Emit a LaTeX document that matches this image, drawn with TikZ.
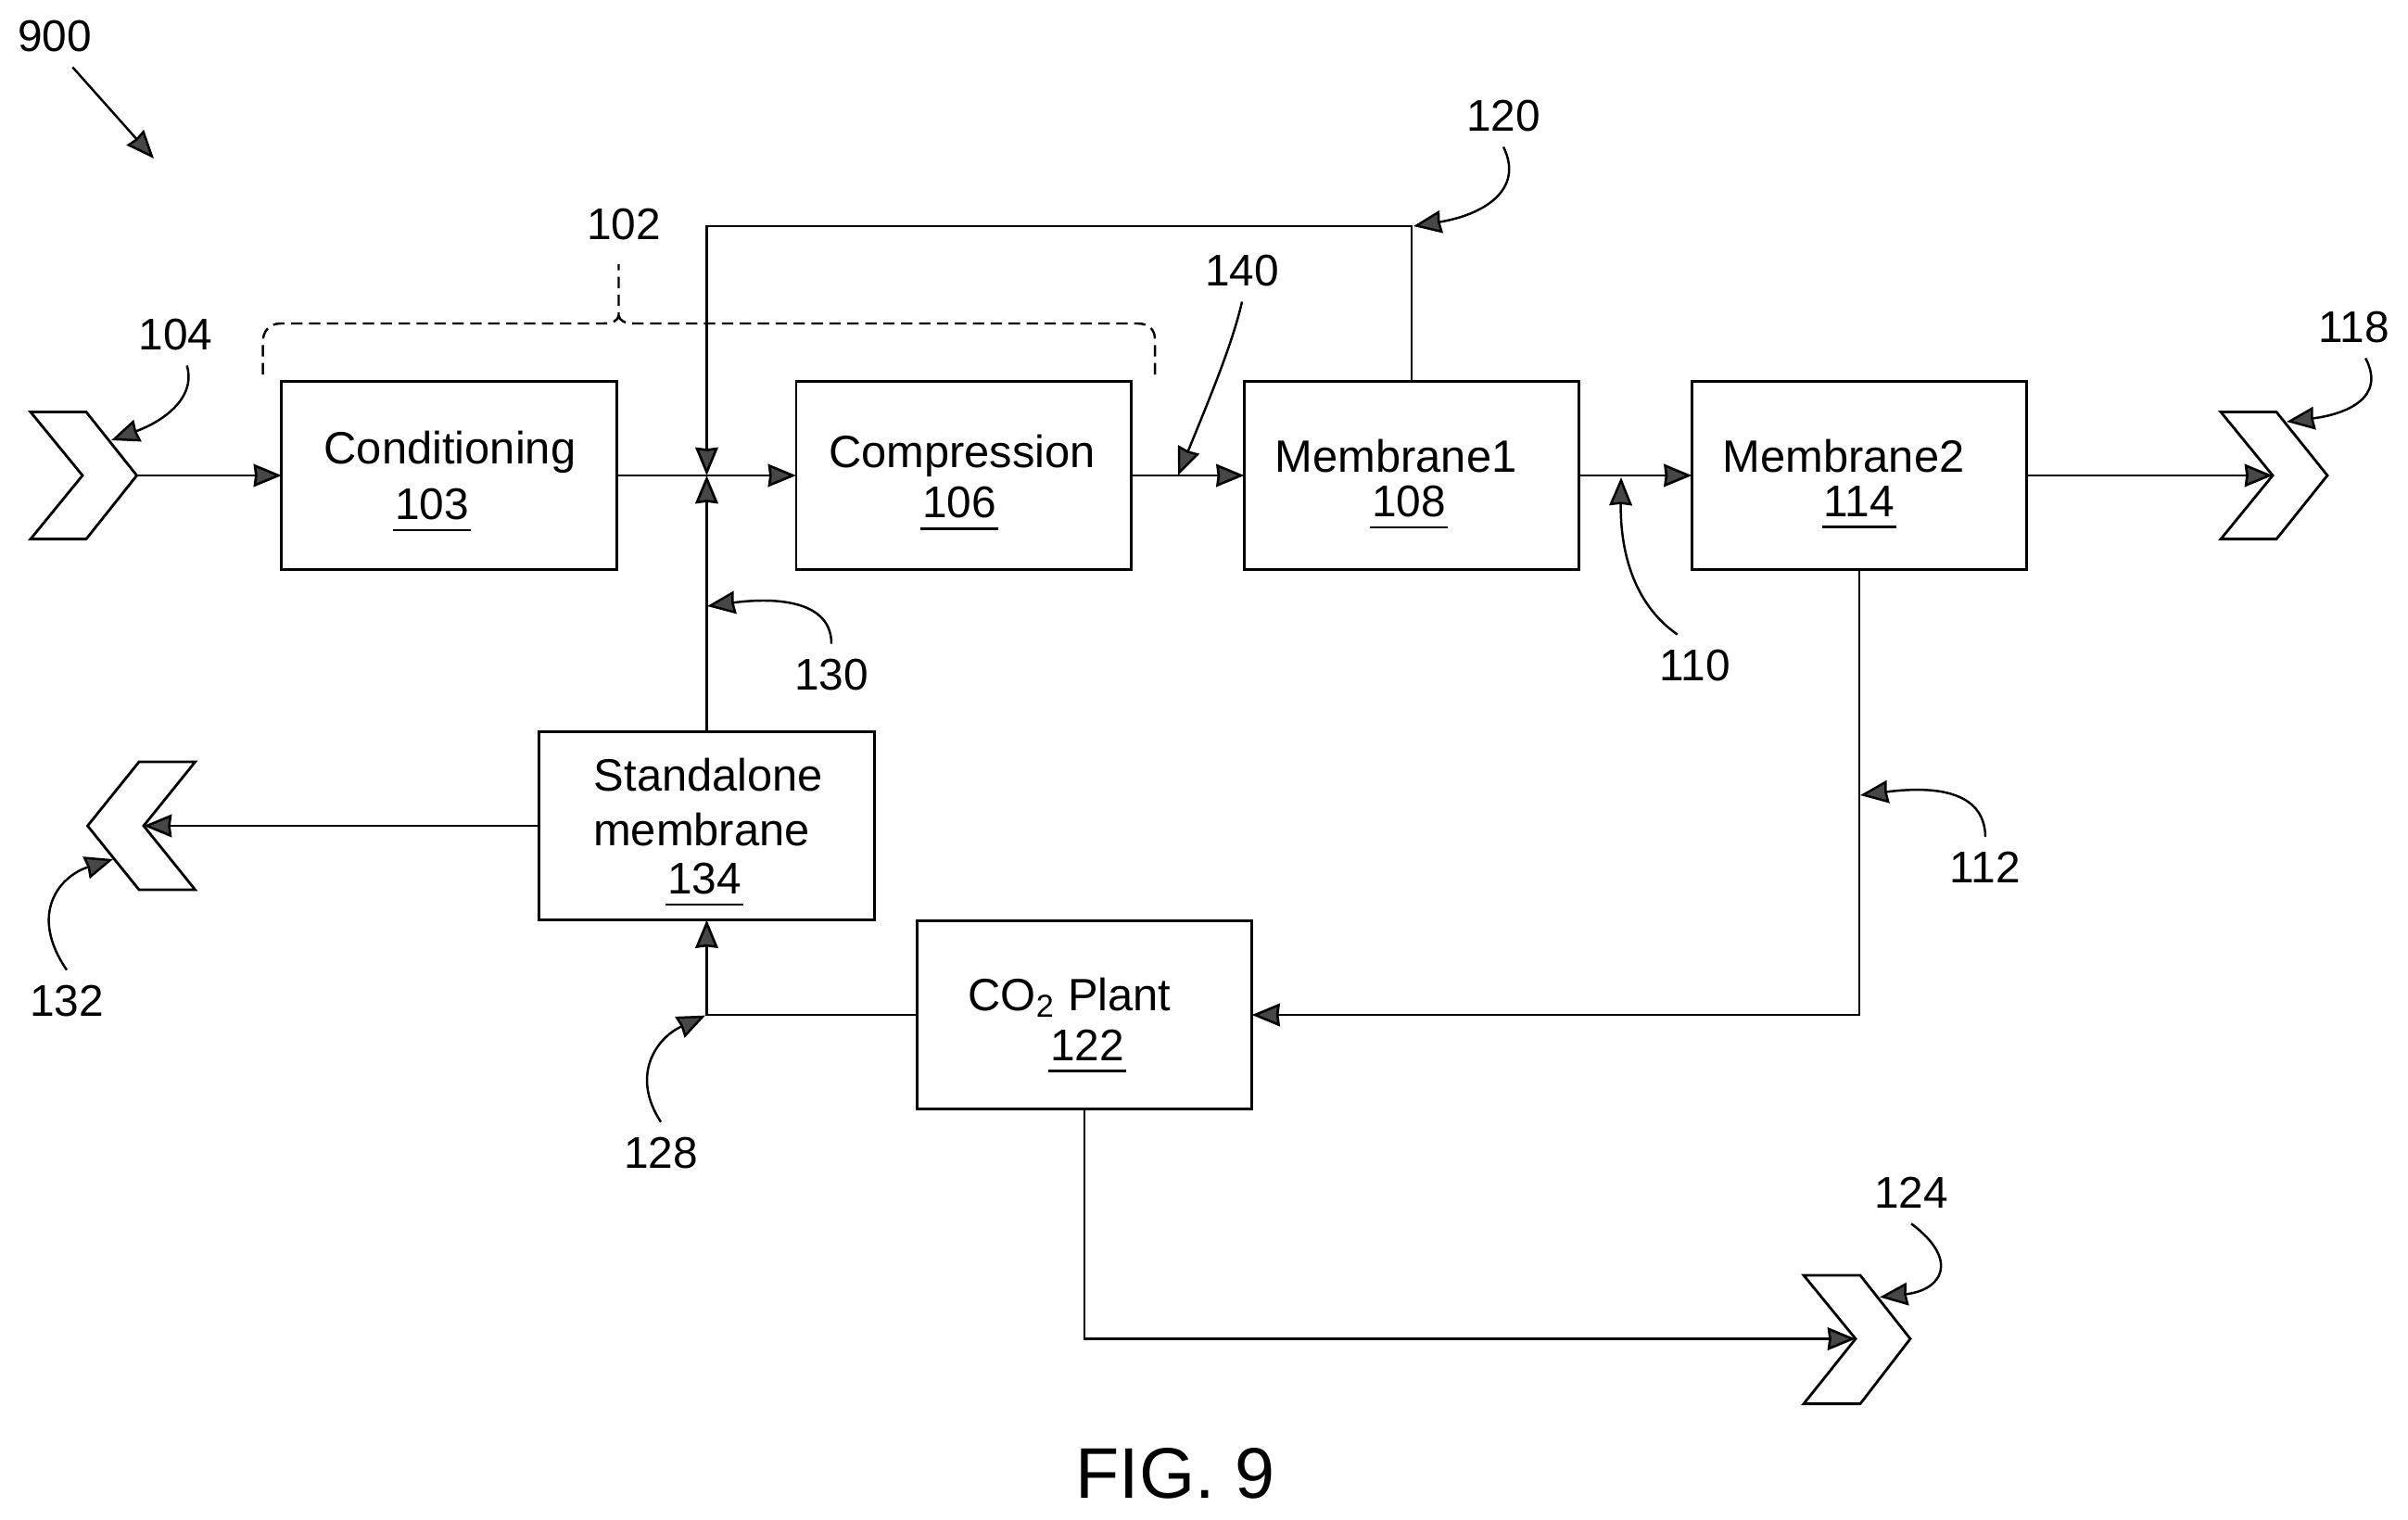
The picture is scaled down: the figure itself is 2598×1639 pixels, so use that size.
\documentclass[tikz,border=0pt]{standalone}
\usepackage{fontspec}
\setmainfont{Liberation Sans}
\usetikzlibrary{arrows.meta}

\tikzset{
	tip/.style={-{Stealth[length=8.6pt, width=7pt, inset=0.4pt, fill=black!72]}},
	unit/.style={draw, line width=0.8pt, outer sep=0pt, minimum width=3.61cm, minimum height=2.03cm, inner sep=0pt},
	link/.style={line width=0.75pt},
	leader/.style={line width=0.7pt},
	chevron/.style={line width=0.8pt, line join=miter},
	tag/.style={font=\fontsize{13.6}{16}\selectfont, inner sep=4.5pt},
	word/.style={font=\fontsize{13.9}{16}\selectfont, anchor=base, inner sep=0pt},
	num/.style={font=\fontsize{13.6}{16}\selectfont, anchor=base, inner xsep=0.4pt, inner ysep=3.1pt}
}

\begin{document}
\begin{tikzpicture}[x=0.01cm, y=-0.01cm]
\useasboundingbox (0, 0) rectangle (2598, 1639);

% boxes
\node[unit] (cond) at (484.5, 513) {};
\node[unit] (comp) at (1039.5, 513) {};
\node[unit] (mem1) at (1523, 513) {};
\node[unit] (mem2) at (2006, 513) {};
\node[unit] (stand) at (762.5, 891) {};
\node[unit] (plant) at (1170, 1095) {};

\node[word] (condtxt) at (485.5, 500) {Conditioning};
\node[word] (comptxt) at (1038, 504) {Compression};
\node[word] (mem1txt) at (1506, 509) {Membrane1};
\node[word] (mem2txt) at (1989, 509) {Membrane2};
\node[word] (standtxt) at (764.5, 853) {Standalone};
\node[word] (standtxtb) at (757, 912.6) {membrane};
\node[word] (planttxt) at (1154, 1090) {CO\textsubscript{2} Plant};

\node[num] (n103) at (466, 560) {103};
\node[num] (n106) at (1035, 558.5) {106};
\node[num] (n108) at (1520, 557) {108};
\node[num] (n114) at (2006, 557) {114};
\node[num] (n134) at (760, 964) {134};
\node[num] (n122) at (1173, 1144) {122};
\foreach \n in {n103, n106, n108, n114, n134, n122}
{
	\draw[link] (\n.south west) -- (\n.south east);
}

% chevrons
\draw[chevron] (33, 444.5) -- (93, 444.5) -- (147.6, 513) coordinate (out104) -- (93, 581.6) -- (33, 581.6) -- (89, 513) -- cycle;
\draw[chevron] (2396, 444.5) -- (2456, 444.5) -- (2511, 513) -- (2456, 581.6) -- (2396, 581.6) -- (2452, 513) coordinate (in118) -- cycle;
\draw[chevron] (94.5, 891) -- (150, 822) -- (210.6, 822) -- (155, 891) coordinate (in132) -- (210.6, 960) -- (150, 960) -- cycle;
\draw[chevron] (1946, 1376) -- (2007, 1376) -- (2061, 1444.5) -- (2007, 1514.6) -- (1946, 1514.6) -- (2002, 1444.5) coordinate (in124) -- cycle;

% connectors
\coordinate (junc) at (762.5, 513);
\coordinate (top) at (762.5, 244);
\draw[link, tip] (out104) -- (cond);
\draw[link, tip] (cond) -- (comp);
\draw[link, tip] (comp) -- (mem1);
\draw[link, tip] (mem1) -- (mem2);
\draw[link, tip] (mem2) -- (in118);
\draw[link, tip] (mem1.north) |- (top) -- (junc);
\draw[link, tip] (stand.north) -- (junc);
\draw[link, tip] (stand.west) -- (in132);
\draw[link, tip] (mem2.south) |- (plant.east);
\draw[link, tip] (plant.west) -| (stand.south);
\draw[link, tip] (plant.south) |- (in124);

% dashed brace
\draw[line width=0.7pt, dash pattern=on 3.5pt off 2pt]
	(283.6, 404) -- (283.6, 369) .. controls (283.6, 358) and (290, 349) .. (303, 349)
	-- (651, 349) .. controls (660, 349) and (667.5, 346) .. (667.5, 340) -- (667.5, 285);
\draw[line width=0.7pt, dash pattern=on 3.5pt off 2pt]
	(1246, 404) -- (1246, 366) .. controls (1246, 356) and (1240, 349) .. (1227, 349)
	-- (684, 349) .. controls (675, 349) and (667.5, 346) .. (667.5, 340);

% reference numerals
\node[tag] (lab900) at (59, 39) {900};
\node[tag] (lab102) at (673, 242) {102};
\node[tag] (lab104) at (189.5, 361) {104};
\node[tag] (lab130) at (897, 728) {130};
\node[tag] (lab120) at (1622, 125) {120};
\node[tag] (lab140) at (1340, 292) {140};
\node[tag] (lab118) at (2540, 353) {118};
\node[tag] (lab110) at (1829, 718) {110};
\node[tag] (lab112) at (2142, 936) {112};
\node[tag] (lab132) at (72, 1080) {132};
\node[tag] (lab128) at (713, 1244) {128};
\node[tag] (lab124) at (2062, 1287) {124};
\node[font=\fontsize{22}{26}\selectfont, inner sep=0pt] (fig) at (1268, 1590) {FIG. 9};

% leaders
\coordinate (c900) at (166, 171);
\coordinate (c104) at (120, 475);
\coordinate (c130) at (763, 654);
\coordinate (c120) at (1525, 244);
\coordinate (c140) at (1271, 513);
\coordinate (c118) at (2467, 455);
\coordinate (c110) at (1749, 515);
\coordinate (c112) at (2007, 858);
\coordinate (c132) at (122, 927);
\coordinate (c128) at (761, 1095.6);
\coordinate (c124) at (2028, 1399.5);

\draw[leader, tip] (lab900.-60) -- (c900);
\draw[leader, tip] (lab104.-70) .. controls (212, 430) and (175, 455) .. (c104);
\draw[leader, tip] (lab130.north) .. controls (897, 645) and (830, 645) .. (c130);
\draw[leader, tip] (lab120.south) .. controls (1645, 205) and (1600, 232) .. (c120);
\draw[leader, tip] (lab140.south) .. controls (1330, 370) and (1305, 430) .. (c140);
\draw[leader, tip] (lab118.-70) .. controls (2575, 430) and (2530, 447) .. (c118);
\draw[leader, tip] (lab110.120) .. controls (1760, 650) and (1748, 590) .. (c110);
\draw[leader, tip] (lab112.north) .. controls (2141, 852) and (2085, 848) .. (c112);
\draw[leader, tip] (lab132.north) .. controls (30, 985) and (65, 945) .. (c132);
\draw[leader, tip] (lab128.north) .. controls (680, 1160) and (708, 1120) .. (c128);
\draw[leader, tip] (lab124.south) .. controls (2115, 1360) and (2095, 1392) .. (c124);
\end{tikzpicture}
\end{document}
